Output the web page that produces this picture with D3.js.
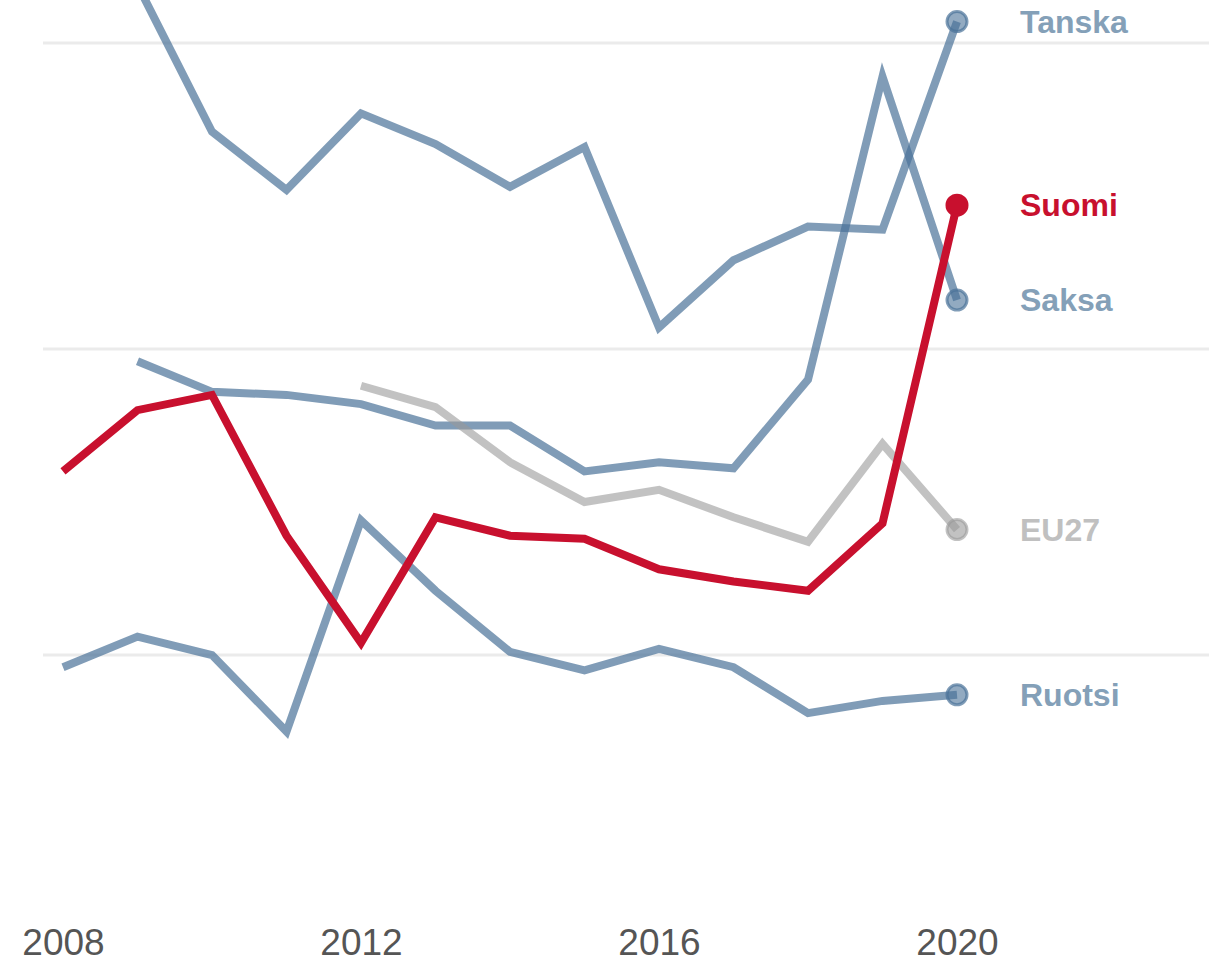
<!DOCTYPE html>
<html>
<head>
<meta charset="utf-8">
<script src="https://cdn.jsdelivr.net/npm/d3@7"></script>
<style>
  html, body { margin: 0; padding: 0; background: #fff; }
  svg { display: block; }
</style>
</head>
<body>
<div id="chart"></div>
<script>
// data
var years = [2008, 2009, 2010, 2011, 2012, 2013, 2014, 2015, 2016, 2017, 2018, 2019, 2020];
var gridValues = [1, 2, 3];
var tickYears = [2008, 2012, 2016, 2020];

var tanska = [null, 3.19, 2.71, 2.52, 2.77, 2.67, 2.53, 2.66, 2.07, 2.29, 2.40, 2.39, 3.07];
var saksa  = [null, 1.96, 1.86, 1.85, 1.82, 1.75, 1.75, 1.60, 1.63, 1.61, 1.90, 2.89, 2.16];
var eu27   = [null, null, null, null, 1.88, 1.81, 1.63, 1.50, 1.54, 1.45, 1.37, 1.69, 1.41];
var ruotsi = [0.96, 1.06, 1.00, 0.75, 1.44, 1.21, 1.01, 0.95, 1.02, 0.96, 0.81, 0.85, 0.87];
var suomi  = [1.60, 1.80, 1.85, 1.39, 1.04, 1.45, 1.39, 1.38, 1.28, 1.24, 1.21, 1.43, 2.47];

var seriesNames = ["Tanska", "Saksa", "EU27", "Ruotsi", "Suomi"];
var seriesValues = [tanska, saksa, eu27, ruotsi, suomi];

// styling
var blue = "#4a7298", grey = "#999999", red = "#c8102e";
var styles = {
  "Tanska": {color: blue, opacity: 0.7, label: "#84a0b8"},
  "Saksa":  {color: blue, opacity: 0.7, label: "#84a0b8"},
  "EU27":   {color: grey, opacity: 0.6, label: "#c0c0c0"},
  "Ruotsi": {color: blue, opacity: 0.7, label: "#84a0b8"},
  "Suomi":  {color: red,  opacity: 1,   label: red}
};

var W = 1209, H = 963;

var svg = d3.select("#chart").append("svg")
  .attr("width", W)
  .attr("height", H);

var x = d3.scaleLinear()
  .domain([2008, 2020])
  .range([63, 957]);

var y = d3.scaleLinear()
  .domain([0, 3])
  .range([961, 43]);

// gridlines
svg.append("g")
  .selectAll("line")
  .data(gridValues)
  .join("line")
    .attr("x1", 43)
    .attr("x2", W)
    .attr("y1", function(d) { return y(d); })
    .attr("y2", function(d) { return y(d); })
    .attr("stroke", "#ebebeb")
    .attr("stroke-width", 3);

// x axis labels
var xAxis = svg.append("g")
  .attr("transform", "translate(0,955)")
  .call(d3.axisBottom(x)
    .tickValues(tickYears)
    .tickFormat(d3.format("d"))
    .tickSize(0)
    .tickPadding(0));
xAxis.select(".domain").remove();
xAxis.selectAll("text")
  .attr("dy", 0)
  .attr("fill", "#555")
  .attr("font-family", "'Liberation Sans', Arial, sans-serif")
  .attr("font-size", 37);

var line = d3.line()
  .defined(function(d) { return d[1] != null; })
  .x(function(d) { return x(d[0]); })
  .y(function(d) { return y(d[1]); });

var series = seriesNames.map(function(name, i) {
  return {
    name: name,
    points: years.map(function(yr, j) { return [yr, seriesValues[i][j]]; })
  };
});

series.forEach(function(s) {
  var st = styles[s.name];
  var g = svg.append("g");

  g.append("path")
    .datum(s.points)
    .attr("fill", "none")
    .attr("stroke", st.color)
    .attr("stroke-opacity", st.opacity)
    .attr("stroke-width", 8)
    .attr("stroke-linejoin", "miter")
    .attr("d", line);

  var last = s.points[s.points.length - 1];

  g.append("circle")
    .attr("cx", x(last[0]))
    .attr("cy", y(last[1]))
    .attr("r", 10)
    .attr("fill", st.color)
    .attr("fill-opacity", st.opacity === 1 ? 1 : 0.6)
    .attr("stroke", st.color)
    .attr("stroke-opacity", st.opacity)
    .attr("stroke-width", 3);

  g.append("text")
    .attr("x", x(last[0]) + 63)
    .attr("y", y(last[1]))
    .attr("dy", "0.35em")
    .attr("fill", st.label)
    .attr("font-family", "'Liberation Sans', Arial, sans-serif")
    .attr("font-weight", "bold")
    .attr("font-size", 32)
    .text(s.name);
});
</script>
</body>
</html>
